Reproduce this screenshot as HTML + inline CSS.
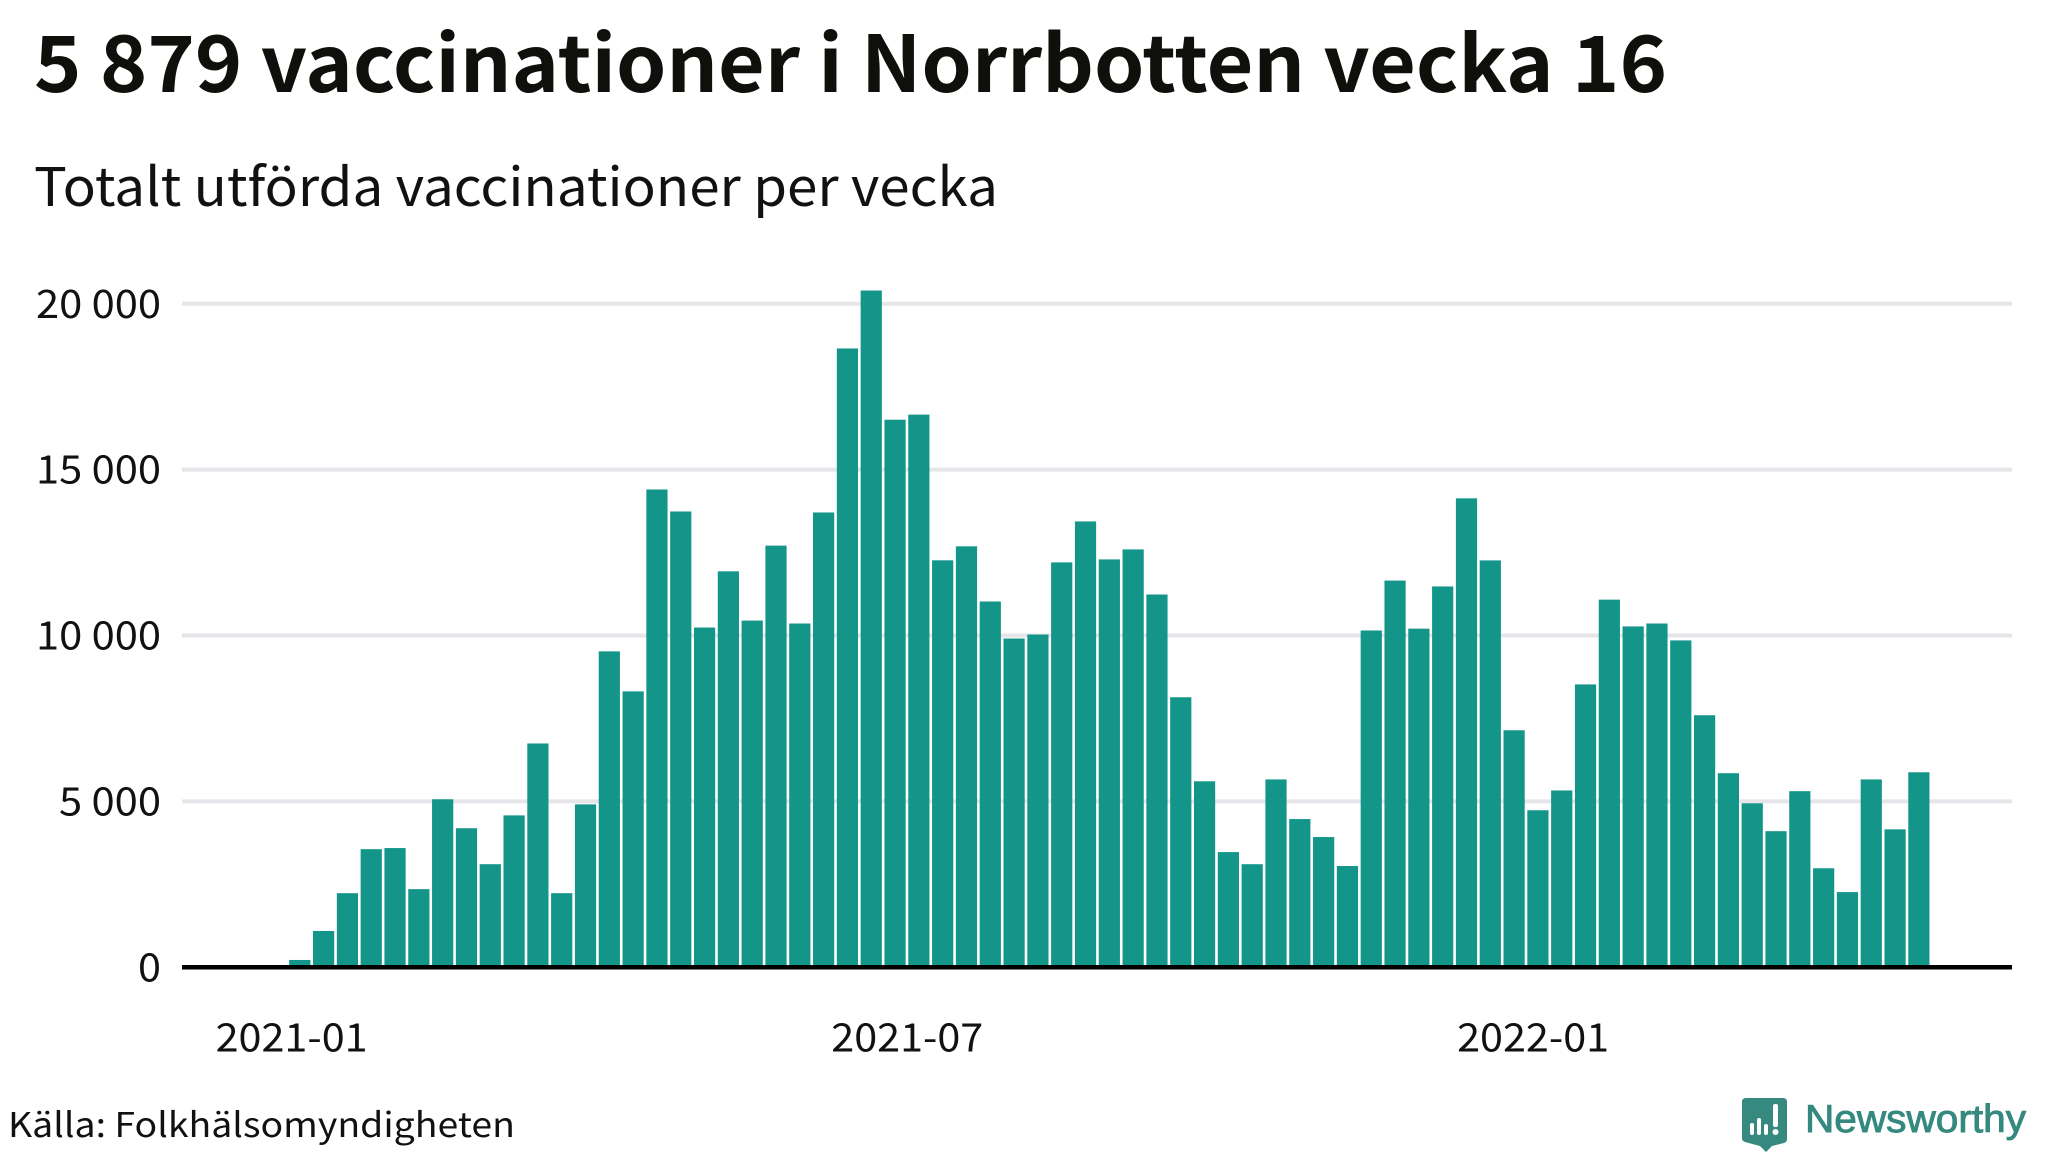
<!DOCTYPE html>
<html lang="sv">
<head>
<meta charset="utf-8">
<title>5 879 vaccinationer i Norrbotten vecka 16</title>
<style>
html,body{margin:0;padding:0;background:#fff;width:2048px;height:1152px;overflow:hidden}
svg{display:block}
text{font-family:"Noto Sans CJK JP","Liberation Sans",sans-serif;fill:#111}
</style>
</head>
<body>
<svg id="chart" width="2048" height="1152" viewBox="0 0 2048 1152" xmlns="http://www.w3.org/2000/svg">
  <rect width="2048" height="1152" fill="#ffffff"/>
  <text x="34" y="92" font-size="78" font-weight="700" fill="#0f100c" style="fill:#0f100c" textLength="1633" lengthAdjust="spacingAndGlyphs">5 879 vaccinationer i Norrbotten vecka 16</text>
  <text x="34" y="206" font-size="53" font-weight="400" textLength="964" lengthAdjust="spacingAndGlyphs">Totalt utförda vaccinationer per vecka</text>
  <g id="grid"></g>
  <g id="bars"></g>
  <g id="axis"></g>
  <text x="8" y="1137" font-size="34" textLength="507" lengthAdjust="spacingAndGlyphs">Källa: Folkhälsomyndigheten</text>
  <g>
    <path d="M1746 1098H1783Q1787 1098 1787 1102V1139Q1787 1142 1784 1143L1772 1146L1766 1152L1760 1146L1745 1142Q1742 1141 1742 1138V1102Q1742 1098 1746 1098Z" fill="#35897f"/>
    <rect x="1750" y="1123" width="4" height="12" rx="2" fill="#ffffff"/>
    <rect x="1757" y="1118" width="4" height="17" rx="2" fill="#ffffff"/>
    <rect x="1764" y="1124" width="4" height="11" rx="2" fill="#ffffff"/>
    <rect x="1773" y="1104" width="5" height="23" rx="2" fill="#ffffff"/>
    <circle cx="1775.5" cy="1132" r="3" fill="#ffffff"/>
    <text x="1805" y="1132" font-size="39" font-weight="400" stroke="#35897f" stroke-width="0.9" style="font-family:'Liberation Sans',sans-serif;fill:#35897f" textLength="221" lengthAdjust="spacingAndGlyphs">Newsworthy</text>
  </g>
</svg>
<script>
const weeks = ["2020-W53","2021-W01","2021-W02","2021-W03","2021-W04","2021-W05","2021-W06","2021-W07","2021-W08","2021-W09","2021-W10","2021-W11","2021-W12","2021-W13","2021-W14","2021-W15","2021-W16","2021-W17","2021-W18","2021-W19","2021-W20","2021-W21","2021-W22","2021-W23","2021-W24","2021-W25","2021-W26","2021-W27","2021-W28","2021-W29","2021-W30","2021-W31","2021-W32","2021-W33","2021-W34","2021-W35","2021-W36","2021-W37","2021-W38","2021-W39","2021-W40","2021-W41","2021-W42","2021-W43","2021-W44","2021-W45","2021-W46","2021-W47","2021-W48","2021-W49","2021-W50","2021-W51","2021-W52","2022-W01","2022-W02","2022-W03","2022-W04","2022-W05","2022-W06","2022-W07","2022-W08","2022-W09","2022-W10","2022-W11","2022-W12","2022-W13","2022-W14","2022-W15","2022-W16"];
const vaccinations = [221,1095,2234,3561,3594,2356,5065,4192,3108,4579,6747,2234,4911,9523,8317,14403,13740,10242,11936,10452,12711,10363,13710,18654,20400,16506,16660,12268,12690,11027,9910,10031,12205,13440,12295,12596,11237,8140,5607,3473,3108,5663,4468,3926,3053,10153,11657,10208,11480,14136,12265,7145,4734,5331,8527,11082,10275,10363,9854,7598,5851,4944,4103,5309,2986,2267,5663,4159,5879];
const yTicks = [0,5000,10000,15000,20000];
const yTickLabels = ["0","5 000","10 000","15 000","20 000"];
const xTickDates = ["2021-01-01","2021-07-01","2022-01-01"];
const xTickLabels = ["2021-01","2021-07","2022-01"];
const firstWeekDate = "2021-01-04";

const SVG_NS = "http://www.w3.org/2000/svg";
const plotLeft = 182, plotRight = 2012;
const y0 = 967.3, yPerUnit = 663.5 / 20000;
const firstBarCenter = 299.8, step = 23.81, barWidth = 21.2;

function yScale(v) { return y0 - v * yPerUnit; }
function xBand(i) { return firstBarCenter + i * step; }
function xDate(s) {
  const days = (Date.parse(s) - Date.parse(firstWeekDate)) / 86400000;
  return firstBarCenter + days / 7 * step;
}
function labelLength(s) {
  const spaces = s.split(" ").length - 1;
  return (s.length - spaces) * 23 + spaces * 10;
}
function make(tag, attrs) {
  const el = document.createElementNS(SVG_NS, tag);
  for (const k in attrs) el.setAttribute(k, attrs[k]);
  return el;
}

const gridG = document.getElementById("grid");
const barsG = document.getElementById("bars");
const axisG = document.getElementById("axis");

yTicks.forEach(function (t, i) {
  if (t !== 0) {
    const line = make("line", {x1: plotLeft, x2: plotRight, y1: yScale(t), y2: yScale(t), stroke: "#e5e5ea", "stroke-width": 4});
    
    
    gridG.appendChild(line);
  }
  const label = make("text", {x: 161, y: yScale(t) + 14, "text-anchor": "end", "font-size": 39, textLength: labelLength(yTickLabels[i]), lengthAdjust: "spacingAndGlyphs"});
  
  
  label.textContent = yTickLabels[i];
  axisG.appendChild(label);
});

vaccinations.forEach(function (v, i) {
  const bar = make("rect", {x: xBand(i) - barWidth / 2, y: yScale(v), width: barWidth, height: y0 - yScale(v), fill: "#13958a"});
  
  
  const tip = make("title", {});
  tip.textContent = weeks[i] + ": " + v;
  bar.appendChild(tip);
  barsG.appendChild(bar);
});

const baseline = make("line", {x1: plotLeft, x2: plotRight, y1: y0, y2: y0, stroke: "#000000", "stroke-width": 4.5});


axisG.appendChild(baseline);

xTickDates.forEach(function (d, i) {
  const label = make("text", {x: xDate(d) + 2, y: 1051.5, "text-anchor": "middle", "font-size": 39, textLength: 152, lengthAdjust: "spacingAndGlyphs"});
  
  
  label.textContent = xTickLabels[i];
  axisG.appendChild(label);
});
</script>
</body>
</html>
